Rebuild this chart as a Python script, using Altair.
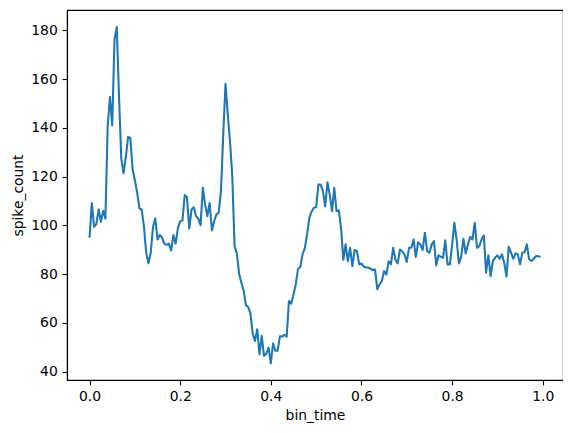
import altair as alt
import pandas as pd

spike_count = [
    94.9, 109.2, 99.4, 100.5, 106.6, 101.5, 106.0, 102.7, 140.6, 152.6,
    141.0, 176.0, 181.4, 153.0, 127.4, 121.4, 128.0, 136.2, 135.8, 123.0,
    118.5, 113.6, 107.0, 106.5, 99.7, 88.8, 84.5, 88.8, 99.3, 102.9,
    94.2, 96.1, 95.0, 92.5, 92.0, 92.5, 89.7, 96.0, 92.5, 99.0,
    101.7, 102.0, 112.4, 111.5, 98.7, 106.5, 107.4, 103.8, 102.8, 100.1,
    115.4, 108.5, 103.8, 109.2, 97.9, 101.7, 104.5, 105.2, 114.0, 137.2,
    158.0, 145.4, 134.4, 120.0, 91.5, 88.5, 80.2, 76.5, 73.3, 67.3,
    66.5, 64.0, 55.7, 52.6, 57.4, 47.2, 54.7, 46.5, 47.4, 49.9,
    43.5, 51.6, 48.6, 48.6, 54.5, 54.4, 55.1, 54.4, 69.0, 67.9,
    71.7, 75.8, 82.2, 82.9, 88.1, 90.6, 96.3, 103.1, 105.6, 107.2,
    107.4, 116.7, 116.7, 114.0, 107.8, 117.7, 112.6, 105.8, 115.4, 105.8,
    106.2, 99.0, 85.9, 92.2, 85.3, 90.8, 83.3, 89.9, 89.4, 84.0,
    84.4, 83.1, 82.7, 82.7, 82.2, 81.7, 81.9, 73.8, 75.8, 77.2,
    81.3, 79.9, 85.3, 84.0, 90.8, 85.9, 84.4, 90.1, 89.4, 88.0,
    85.0, 90.8, 90.8, 94.2, 87.1, 93.1, 92.2, 89.9, 97.0, 89.4,
    88.8, 92.2, 93.5, 83.6, 87.7, 87.1, 86.7, 93.9, 84.0, 84.0,
    91.8, 101.1, 94.2, 84.4, 87.1, 94.5, 88.5, 92.2, 95.3, 94.2,
    101.1, 90.8, 91.5, 94.2, 95.9, 80.6, 87.7, 79.2, 85.4, 86.7,
    87.7, 86.3, 88.1, 84.7, 79.0, 91.2, 88.8, 86.3, 88.5, 88.1,
    84.0, 88.8, 89.0, 92.2, 86.1, 85.4, 86.3, 87.4, 87.4, 87.0,
]
bin_time = [round(0.005 * i, 3) for i in range(len(spike_count))]

x_ticks = [0.0, 0.2, 0.4, 0.6, 0.8, 1.0]
y_ticks = [40, 60, 80, 100, 120, 140, 160, 180]

df = pd.DataFrame({"bin_time": bin_time, "spike_count": spike_count})

chart = (
    alt.Chart(df)
    .mark_line(color="#1f77b4", strokeWidth=2.08, strokeJoin="round")
    .encode(
        x=alt.X(
            "bin_time:Q",
            scale=alt.Scale(domain=[-0.04975, 1.04475], nice=False, zero=False),
            axis=alt.Axis(values=x_ticks, format=".1f", title="bin_time", titlePadding=5),
        ),
        y=alt.Y(
            "spike_count:Q",
            scale=alt.Scale(domain=[36.6, 188.3], nice=False, zero=False),
            axis=alt.Axis(values=y_ticks, format="d", title="spike_count", titlePadding=5.5),
        ),
    )
    .properties(
        width=496,
        height=370,
        autosize=alt.AutoSizeParams(type="none"),
        padding={"left": 59, "top": 2, "right": 0, "bottom": 45},
    )
    .configure_view(stroke="black", strokeWidth=1.11)
    .configure_axis(
        grid=False,
        domainColor="black",
        domainWidth=1.11,
        tickColor="black",
        tickWidth=1.11,
        tickSize=4.86,
        labelFont="DejaVu Sans",
        labelFontSize=13.9,
        labelColor="black",
        labelPadding=4.86,
        titleFont="DejaVu Sans",
        titleFontSize=13.9,
        titleFontWeight="normal",
        titleColor="black",
    )
)

chart.save("out.html", embed_options={"renderer": "svg", "actions": False})
